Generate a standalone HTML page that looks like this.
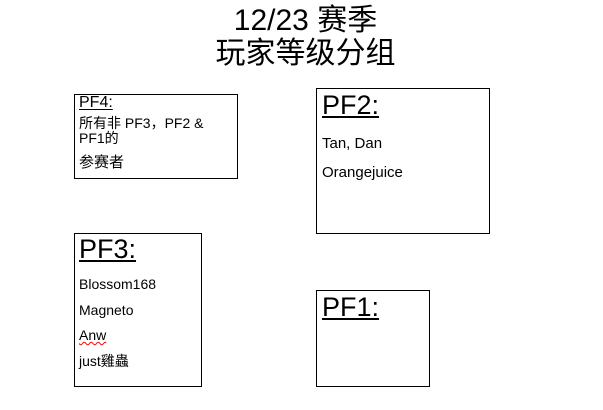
<!DOCTYPE html>
<html><head><meta charset="utf-8"><style>
body{margin:0;width:603px;height:410px;background:#fff;position:relative;overflow:hidden;font-family:"Liberation Sans","Noto Sans CJK SC",sans-serif;color:#000}
.t{position:absolute;left:4px;width:603px;text-align:center;font-size:30px;line-height:34px}
.b{position:absolute;border:1px solid #000;box-sizing:border-box}
.a{position:absolute;white-space:nowrap}
.h{text-decoration:underline;text-underline-offset:2px}
</style></head><body>
<div class="t" style="top:4px">12/23 赛季</div>
<div class="t" style="top:37px">玩家等级分组</div>

<div class="b" style="left:74px;top:94px;width:164px;height:85px"></div>
<div class="a h" style="left:79px;top:94px;font-size:16px">PF4:</div>
<div class="a" style="left:79px;top:116px;font-size:14px;line-height:15px">所有非 PF3，PF2 &amp;<br>PF1的</div>
<div class="a" style="left:79px;top:151px;font-size:15px">参赛者</div>

<div class="b" style="left:316px;top:88px;width:174px;height:146px"></div>
<div class="a h" style="left:322px;top:90px;font-size:27px">PF2:</div>
<div class="a" style="left:322px;top:135px;font-size:15px">Tan, Dan</div>
<div class="a" style="left:322px;top:164px;font-size:15px">Orangejuice</div>

<div class="b" style="left:74px;top:233px;width:128px;height:154px"></div>
<div class="a h" style="left:79px;top:234px;font-size:27px">PF3:</div>
<div class="a" style="left:79px;top:276px;font-size:14px">Blossom168</div>
<div class="a" style="left:79px;top:302px;font-size:14px">Magneto</div>
<div class="a" style="left:79px;top:327px;font-size:14px;text-decoration:underline wavy red;text-decoration-thickness:1px">Anw</div>
<div class="a" style="left:79px;top:351px;font-size:14px">just雞蟲</div>

<div class="b" style="left:316px;top:290px;width:114px;height:97px"></div>
<div class="a h" style="left:322px;top:292px;font-size:27px">PF1:</div>
</body></html>
